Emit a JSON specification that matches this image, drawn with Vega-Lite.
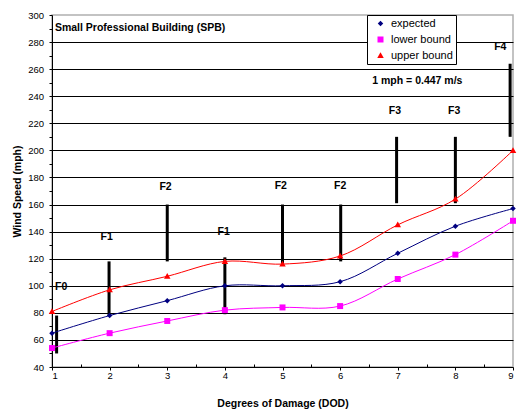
{
  "$schema": "https://vega.github.io/schema/vega-lite/v6.json",
  "width": 461,
  "height": 352,
  "autosize": {"type": "none"},
  "padding": {"left": 52, "top": 15, "right": 4, "bottom": 45},
  "config": {
    "font": "Liberation Sans",
    "view": {"stroke": "#b0b0b0", "strokeWidth": 1.5},
    "axis": {
      "labelFont": "Liberation Sans",
      "labelColor": "black",
      "labelFontSize": 9.5,
      "titleFont": "Liberation Sans",
      "titleColor": "black",
      "titleFontSize": 10.5,
      "titleFontWeight": "bold",
      "domainColor": "black",
      "tickColor": "black",
      "labelOverlap": false
    },
    "text": {"font": "Liberation Sans"}
  },
  "datasets": {
    "series": [
      {"x": 1, "y": 65, "series": "expected"},
      {"x": 2, "y": 78, "series": "expected"},
      {"x": 3, "y": 89, "series": "expected"},
      {"x": 4, "y": 100, "series": "expected"},
      {"x": 5, "y": 100, "series": "expected"},
      {"x": 6, "y": 103, "series": "expected"},
      {"x": 7, "y": 124, "series": "expected"},
      {"x": 8, "y": 144, "series": "expected"},
      {"x": 9, "y": 157, "series": "expected"},
      {"x": 1, "y": 54, "series": "lower bound"},
      {"x": 2, "y": 65, "series": "lower bound"},
      {"x": 3, "y": 74, "series": "lower bound"},
      {"x": 4, "y": 82, "series": "lower bound"},
      {"x": 5, "y": 84, "series": "lower bound"},
      {"x": 6, "y": 85, "series": "lower bound"},
      {"x": 7, "y": 105, "series": "lower bound"},
      {"x": 8, "y": 123, "series": "lower bound"},
      {"x": 9, "y": 148, "series": "lower bound"},
      {"x": 1, "y": 81, "series": "upper bound"},
      {"x": 2, "y": 97, "series": "upper bound"},
      {"x": 3, "y": 107, "series": "upper bound"},
      {"x": 4, "y": 118, "series": "upper bound"},
      {"x": 5, "y": 116, "series": "upper bound"},
      {"x": 6, "y": 122, "series": "upper bound"},
      {"x": 7, "y": 145, "series": "upper bound"},
      {"x": 8, "y": 164, "series": "upper bound"},
      {"x": 9, "y": 200, "series": "upper bound"}
    ],
    "bars": [
      {"x": 1.08, "y": 50, "y2": 78},
      {"x": 1.99, "y": 78, "y2": 118},
      {"x": 3.0, "y": 118, "y2": 160},
      {"x": 4.0, "y": 79, "y2": 121},
      {"x": 5.0, "y": 115, "y2": 160},
      {"x": 6.01, "y": 118, "y2": 160},
      {"x": 6.98, "y": 161, "y2": 210},
      {"x": 8.0, "y": 161, "y2": 210},
      {"x": 8.95, "y": 210, "y2": 264}
    ],
    "labels": [
      {"x": 1.16, "y": 99, "t": "F0"},
      {"x": 1.95, "y": 136, "t": "F1"},
      {"x": 2.97, "y": 173, "t": "F2"},
      {"x": 3.98, "y": 139.5, "t": "F1"},
      {"x": 4.97, "y": 174, "t": "F2"},
      {"x": 6.0, "y": 174, "t": "F2"},
      {"x": 6.95, "y": 229, "t": "F3"},
      {"x": 7.98, "y": 229, "t": "F3"},
      {"x": 8.78, "y": 276.5, "t": "F4"}
    ],
    "title": [{"x": 1.05, "y": 290.7, "t": "Small Professional Building (SPB)"}],
    "note": [{"x": 7.34, "y": 251.5, "t": "1 mph = 0.447 m/s"}]
  },
  "layer": [
    {
      "data": {"name": "bars"},
      "mark": {"type": "rule", "color": "black", "strokeWidth": 3},
      "encoding": {
        "x": {
          "field": "x", "type": "quantitative",
          "scale": {"domain": [1, 9], "nice": false, "zero": false},
          "axis": {
            "title": "Degrees of Damage (DOD)",
            "values": [1, 1.5, 2, 2.5, 3, 3.5, 4, 4.5, 5, 5.5, 6, 6.5, 7, 7.5, 8, 8.5, 9],
            "tickCount": 40,
            "labelExpr": "indexof([1,2,3,4,5,6,7,8,9], datum.value) >= 0 ? datum.value + '' : ''",
            "labelOverlap": false,
            "grid": false,
            "tickSize": {"condition": {"test": "indexof([1,2,3,4,5,6,7,8,9], datum.value) >= 0", "value": 3}, "value": -3},
            "labelPadding": 0,
            "titleX": 230.5,
            "titleY": 36,
            "titleBaseline": "middle",
            "titleAlign": "center"
          }
        },
        "y": {
          "field": "y", "type": "quantitative",
          "scale": {"domain": [40, 300], "nice": false, "zero": false},
          "axis": {
            "title": "Wind Speed (mph)",
            "values": [40, 50, 60, 70, 80, 90, 100, 110, 120, 130, 140, 150, 160, 170, 180, 190, 200, 210, 220, 230, 240, 250, 260, 270, 280, 290, 300],
            "tickCount": 60,
            "labelExpr": "indexof([40,60,80,100,120,140,160,180,200,220,240,260,280,300], datum.value) >= 0 ? datum.value + '' : ''",
            "labelOverlap": false,
            "grid": true,
            "gridColor": "black",
            "gridWidth": 1,
            "gridOpacity": {"condition": {"test": "indexof([60,80,100,120,140,160,180,200,220,240,260,280], datum.value) >= 0", "value": 1}, "value": 0},
            "tickSize": 3,
            "labelPadding": 5.5,
            "titleX": -35,
            "titleY": 176,
            "titleAngle": 270,
            "titleBaseline": "middle",
            "titleAlign": "center"
          }
        },
        "y2": {"field": "y2"}
      }
    },
    {
      "data": {"name": "series"},
      "mark": {"type": "line", "strokeWidth": 1, "interpolate": "catmull-rom"},
      "encoding": {
        "x": {"field": "x", "type": "quantitative"},
        "y": {"field": "y", "type": "quantitative"},
        "color": {
          "field": "series", "type": "nominal",
          "scale": {"domain": ["expected", "lower bound", "upper bound"], "range": ["#000080", "#FF00FF", "#FF0000"]}
        }
      }
    },
    {
      "data": {"name": "series"},
      "mark": {"type": "point", "filled": true, "opacity": 1, "size": 100},
      "encoding": {
        "x": {"field": "x", "type": "quantitative"},
        "y": {"field": "y", "type": "quantitative"},
        "color": {
          "field": "series", "type": "nominal",
          "scale": {"domain": ["expected", "lower bound", "upper bound"], "range": ["#000080", "#FF00FF", "#FF0000"]},
          "legend": {
            "title": null,
            "orient": "none",
            "legendX": 315,
            "legendY": 0,
            "fillColor": "white",
            "strokeColor": "black",
            "padding": 3,
            "labelFont": "Liberation Sans",
            "labelFontSize": 11,
            "labelColor": "black",
            "symbolSize": 100,
            "symbolOffset": 5,
            "labelOffset": 5,
            "rowPadding": 4,
            "symbolStrokeWidth": 0
          }
        },
        "shape": {
          "field": "series", "type": "nominal",
          "scale": {"domain": ["expected", "lower bound", "upper bound"], "range": ["M0,-0.55L0.55,0L0,0.55L-0.55,0Z", "M-0.6,-0.6H0.6V0.6H-0.6Z", "M0,-0.65L0.65,0.5H-0.65Z"]},
          "legend": null
        }
      }
    },
    {
      "data": {"name": "labels"},
      "mark": {"type": "text", "fontWeight": "bold", "fontSize": 10.5, "align": "center", "baseline": "middle", "color": "black"},
      "encoding": {
        "x": {"field": "x", "type": "quantitative"},
        "y": {"field": "y", "type": "quantitative"},
        "text": {"field": "t"}
      }
    },
    {
      "data": {"name": "title"},
      "mark": {"type": "text", "fontWeight": "bold", "fontSize": 10.5, "align": "left", "baseline": "middle", "color": "black"},
      "encoding": {
        "x": {"field": "x", "type": "quantitative"},
        "y": {"field": "y", "type": "quantitative"},
        "text": {"field": "t"}
      }
    },
    {
      "data": {"name": "note"},
      "mark": {"type": "text", "fontWeight": "bold", "fontSize": 10.5, "align": "center", "baseline": "middle", "color": "black"},
      "encoding": {
        "x": {"field": "x", "type": "quantitative"},
        "y": {"field": "y", "type": "quantitative"},
        "text": {"field": "t"}
      }
    }
  ]
}
